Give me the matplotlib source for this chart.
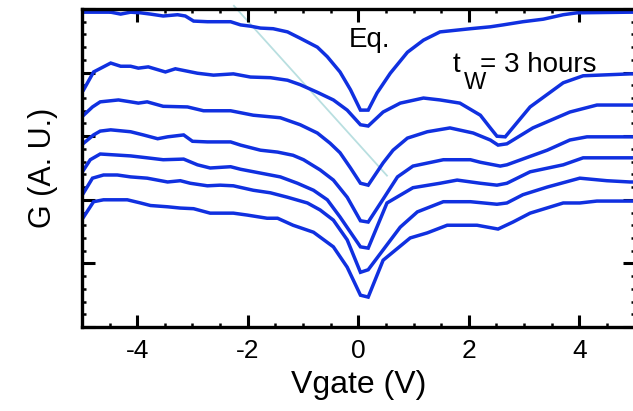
import matplotlib
matplotlib.use("Agg")
import matplotlib.pyplot as plt
from matplotlib.ticker import MultipleLocator, NullFormatter

plt.rcParams['font.family'] = ['Liberation Sans', 'DejaVu Sans']

# кривые G(Vgate), сверху вниз: Eq. ... t_W = 3 hours
x1 = [-4.97, -4.61, -4.48, -4.30, -4.12, -3.94, -3.76, -3.53, -3.27, -3.13, -2.98, -2.73, -2.31,
      -2.13, -1.95, -1.77, -1.54, -1.28, -1.05, -0.74, -0.56, -0.33, -0.14, 0.04, 0.18, 0.34,
      0.58, 0.89, 1.18, 1.48, 2.03, 2.39, 2.62, 2.98, 3.35, 3.71, 3.96, 4.92, 5.0]
y1 = [4.95, 4.95, 4.95, 4.92, 4.95, 4.94, 4.92, 4.89, 4.91, 4.89, 4.81, 4.80, 4.80,
      4.75, 4.73, 4.70, 4.69, 4.64, 4.54, 4.40, 4.25, 4.01, 3.73, 3.41, 3.41, 3.68,
      3.99, 4.32, 4.51, 4.64, 4.69, 4.72, 4.75, 4.80, 4.84, 4.91, 4.94, 4.95, 4.95]

x2 = [-4.97, -4.79, -4.48, -4.30, -4.12, -3.98, -3.80, -3.49, -3.31, -2.91, -2.62, -2.26, -1.95,
      -1.59, -1.28, -1.05, -0.74, -0.45, -0.20, 0.04, 0.18, 0.45, 0.76, 1.18, 1.48, 1.84,
      2.21, 2.39, 2.51, 2.66, 3.11, 3.71, 4.07, 4.92, 5.0]
y2 = [3.73, 4.01, 4.15, 4.10, 4.10, 4.07, 4.09, 4.01, 4.06, 3.99, 3.96, 3.98, 3.93,
      3.92, 3.88, 3.81, 3.69, 3.57, 3.41, 3.18, 3.16, 3.38, 3.52, 3.60, 3.57, 3.52,
      3.33, 3.13, 3.00, 2.99, 3.46, 3.84, 3.95, 3.98, 3.98]

x3 = [-4.97, -4.81, -4.67, -4.34, -4.12, -3.98, -3.82, -3.53, -3.09, -2.80, -2.31, -1.90, -1.41,
      -1.05, -0.74, -0.51, -0.33, -0.14, 0.04, 0.18, 0.45, 0.63, 0.89, 1.25, 1.66, 2.08,
      2.39, 2.53, 2.69, 3.16, 3.83, 4.32, 4.92, 5.0]
y3 = [3.33, 3.46, 3.54, 3.57, 3.54, 3.52, 3.54, 3.47, 3.46, 3.40, 3.40, 3.33, 3.29,
      3.18, 3.05, 2.89, 2.74, 2.50, 2.26, 2.23, 2.58, 2.78, 2.97, 3.07, 3.13, 3.05,
      2.94, 2.86, 2.88, 3.13, 3.38, 3.49, 3.49, 3.49]

x4 = [-4.97, -4.79, -4.67, -4.48, -4.12, -3.89, -3.63, -3.45, -3.16, -3.00, -2.73, -2.31, -2.13,
      -1.77, -1.46, -1.18, -0.99, -0.69, -0.45, -0.20, 0.04, 0.18, 0.45, 0.71, 0.99, 1.54,
      2.03, 2.21, 2.57, 2.69, 3.42, 3.83, 4.14, 4.92, 5.0]
y4 = [2.89, 3.02, 3.08, 3.10, 3.07, 3.02, 2.96, 2.99, 3.02, 2.92, 2.91, 2.91, 2.86,
      2.78, 2.75, 2.70, 2.63, 2.47, 2.31, 2.04, 1.67, 1.65, 2.01, 2.36, 2.53, 2.63,
      2.63, 2.59, 2.53, 2.55, 2.78, 2.94, 2.99, 2.99, 2.99]

x5 = [-4.97, -4.85, -4.67, -4.12, -3.82, -3.53, -3.16, -2.91, -2.68, -2.31, -2.13, -1.77, -1.41,
      -1.10, -0.81, -0.56, -0.33, 0.04, 0.18, 0.52, 0.99, 1.48, 1.79, 2.21, 2.51, 2.69,
      3.11, 3.71, 4.07, 4.92, 5.0]
y5 = [2.47, 2.63, 2.72, 2.69, 2.66, 2.63, 2.64, 2.55, 2.50, 2.52, 2.48, 2.42, 2.36,
      2.26, 2.15, 2.00, 1.73, 1.26, 1.24, 1.95, 2.19, 2.26, 2.31, 2.26, 2.23, 2.26,
      2.44, 2.55, 2.66, 2.66, 2.66]

x6 = [-4.97, -4.81, -4.61, -4.36, -4.12, -3.82, -3.45, -3.22, -3.04, -2.73, -2.50, -2.26, -1.90,
      -1.59, -1.28, -0.92, -0.69, -0.45, -0.20, 0.04, 0.18, 0.76, 1.07, 1.54, 2.03, 2.51,
      2.69, 2.98, 3.42, 4.01, 4.50, 4.92, 5.0]
y6 = [2.11, 2.34, 2.39, 2.39, 2.36, 2.34, 2.28, 2.30, 2.26, 2.22, 2.23, 2.22, 2.15,
      2.11, 2.04, 1.95, 1.84, 1.68, 1.37, 0.86, 0.90, 1.57, 1.81, 1.97, 1.97, 1.93,
      1.95, 2.08, 2.20, 2.34, 2.30, 2.28, 2.28]

x7 = [-4.97, -4.79, -4.61, -4.18, -3.94, -3.76, -3.45, -3.22, -2.98, -2.68, -2.26, -2.01, -1.65,
      -1.46, -1.18, -0.81, -0.45, -0.20, 0.04, 0.18, 0.45, 0.94, 1.25, 1.61, 2.15, 2.53,
      2.80, 3.11, 3.71, 4.01, 4.32, 4.92, 5.0]
y7 = [1.73, 1.97, 2.00, 2.00, 1.95, 1.91, 1.89, 1.87, 1.86, 1.79, 1.79, 1.76, 1.71,
      1.71, 1.60, 1.49, 1.26, 0.94, 0.50, 0.47, 1.05, 1.40, 1.48, 1.60, 1.60, 1.54,
      1.65, 1.79, 1.95, 1.95, 1.98, 1.98, 1.98]

# светлая наклонная линия (сдвиг минимума)
guide_x = [-2.25, 0.52]
guide_y = [5.05, 2.38]

fig = plt.figure(figsize=(6.33, 4.11), dpi=100)
ax = fig.add_axes([0.1295, 0.2044, 0.8729, 0.7737])

ax.plot(guide_x, guide_y, color='#b9dfe0', lw=1.3, clip_on=False, zorder=1)
for xs, ys in [(x1, y1), (x2, y2), (x3, y3), (x4, y4), (x5, y5), (x6, y6), (x7, y7)]:
    ax.plot(xs, ys, color='#1030e0', lw=2.5, solid_joinstyle='miter', zorder=2)

ax.set_xlim(-5, 5)
ax.set_ylim(0, 5)

ax.xaxis.set_major_locator(MultipleLocator(2))
ax.xaxis.set_minor_locator(MultipleLocator(0.5))
ax.yaxis.set_major_locator(MultipleLocator(1))
ax.yaxis.set_minor_locator(MultipleLocator(0.2))
ax.yaxis.set_major_formatter(NullFormatter())
ax.set_xticks([-4, -2, 0, 2, 4])
ax.set_xticklabels(['-4', '-2', '0', '2', '4'])

ax.tick_params(which='both', direction='in', top=True, right=True, labelsize=19, pad=9)
ax.tick_params(which='major', length=9, width=2.2)
ax.tick_params(which='minor', length=3, width=1.8)
for s in ax.spines.values():
    s.set_linewidth(2.4)

ax.set_xlabel('Vgate (V)', fontsize=23, labelpad=5)
ax.set_ylabel('G (A. U.)', fontsize=22, labelpad=8)

ax.text(0.2, 4.40, 'Eq.', fontsize=20, ha='center', va='baseline')
ax.text(1.70, 4.01, 't', fontsize=20, ha='left', va='baseline')
ax.text(1.92, 3.74, 'W', fontsize=17, ha='left', va='baseline')
ax.text(2.20, 4.01, '= 3 hours', fontsize=20, ha='left', va='baseline')

fig.savefig('out.png', dpi=100)
